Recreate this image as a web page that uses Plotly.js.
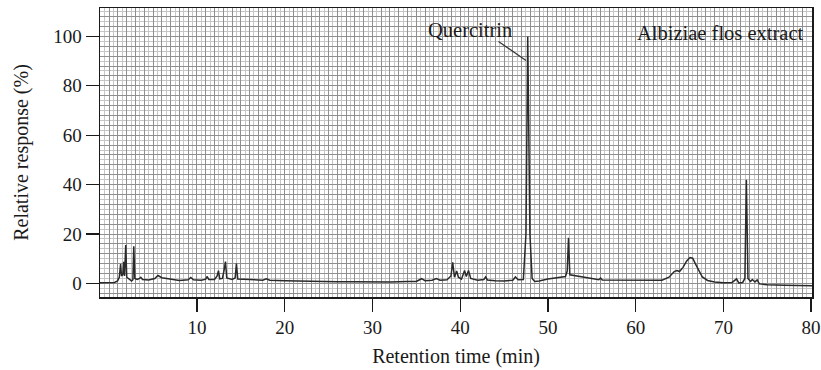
<!DOCTYPE html>
<html>
<head>
<meta charset="utf-8">
<script src="https://cdn.plot.ly/plotly-3.0.1.min.js"></script>
<style>html,body{margin:0;padding:0;background:#fff;}#chart{width:821px;height:370px;}</style>
</head>
<body>
<div id="chart"></div>
<script>
// Retention time (min)
const retentionTime = [-1.05, 0.0, 0.6, 0.95, 1.15, 1.3, 1.4, 1.55, 1.65, 1.75, 1.88, 2.0, 2.3, 2.55, 2.7, 2.8, 2.92, 3.2, 3.45, 3.6, 3.8, 4.5, 5.2, 5.55, 6.0, 7.0, 8.0, 9.0, 9.3, 9.6, 10.5, 11.0, 11.15, 11.35, 12.0, 12.3, 12.45, 12.6, 12.9, 13.1, 13.25, 13.4, 14.0, 14.35, 14.5, 14.65, 15.2, 16.0, 17.5, 17.9, 18.3, 20, 22, 24, 26, 28, 30, 32, 34, 35.0, 35.6, 36.0, 36.8, 37.3, 37.7, 38.5, 38.95, 39.15, 39.35, 39.6, 39.8, 40.15, 40.5, 40.7, 40.95, 41.2, 42.0, 42.7, 42.9, 43.1, 44, 45, 46.0, 46.3, 46.6, 47.2, 47.5, 47.7, 47.95, 48.2, 48.5, 49.0, 50.0, 51.0, 52.0, 52.2, 52.35, 52.5, 53.2, 54.0, 55.0, 55.8, 56.0, 56.2, 58, 60, 62.0, 63.0, 63.8, 64.4, 64.7, 65.0, 65.4, 65.8, 66.2, 66.5, 66.8, 67.2, 67.6, 68.2, 69.0, 70.0, 71.0, 71.5, 71.75, 72.2, 72.45, 72.62, 72.8, 73.1, 73.3, 73.6, 73.85, 74.1, 75.0, 77.0, 80.1];
// Relative response (%)
const relResponse = [0.3, 0.3, 0.4, 1.0, 2.5, 7.8, 3.0, 3.5, 8.8, 3.0, 15.5, 2.5, 1.8, 1.0, 1.5, 15.0, 2.0, 1.6, 2.0, 2.5, 1.6, 1.4, 2.0, 3.2, 2.3, 1.8, 1.2, 1.5, 2.4, 1.5, 1.3, 1.7, 2.8, 1.6, 1.6, 3.0, 5.2, 1.8, 2.0, 5.5, 8.8, 2.2, 1.6, 2.2, 8.0, 1.8, 1.7, 1.4, 1.3, 1.9, 1.3, 1.1, 0.9, 0.8, 0.7, 0.7, 0.6, 0.6, 0.8, 0.8, 1.9, 1.1, 1.3, 2.0, 1.3, 1.5, 3.0, 8.5, 2.5, 5.0, 2.5, 1.7, 5.2, 2.8, 5.2, 2.0, 1.3, 1.6, 2.6, 1.4, 1.1, 1.0, 1.3, 2.6, 1.5, 1.6, 20, 100, 20, 2.0, 0.8, 1.0, 1.8, 2.4, 2.8, 5, 18.5, 3.5, 3.0, 2.6, 2.0, 1.5, 2.2, 1.4, 1.3, 1.2, 1.1, 1.3, 2.5, 4.8, 5.2, 4.8, 6.5, 9.0, 10.5, 10.2, 8.0, 5.0, 2.6, 1.2, 0.6, 0.3, 0.4, 1.8, 0.2, 0.4, 2.0, 42, 2.0, 0.8, 1.6, 0.6, 1.4, -0.2, -0.5, -0.7, -0.9];

const xRange = [-1.05, 80.1];
const yRange = [-5.5, 111.5];
const xTickVals = [10, 20, 30, 40, 50, 60, 70, 80];
const yTickVals = [0, 20, 40, 60, 80, 100];

const peakLabel = "Quercitrin";
const peakLabelPos = [41.15, 102.7];
const peakLeaderFrom = [44.2, 98.4];
const peakLeaderTo = [47.5, 90.2];
const sampleLabel = "Albiziae flos extract";

const serif = "Liberation Serif, Times New Roman, serif";

const traces = [
  {x: retentionTime, y: relResponse, type: 'scatter', mode: 'lines',
   line: {color: '#2a2a2a', width: 1.5}, hoverinfo: 'skip', showlegend: false},
  {x: [], y: [], xaxis: 'x2', yaxis: 'y2', type: 'scatter', mode: 'lines', showlegend: false}
];

const gridDark = '#8f8f8f', gridLight = '#c6c6c6';

const layout = {
  width: 821, height: 370,
  margin: {l: 100, r: 9, t: 8, b: 73, pad: 0},
  paper_bgcolor: '#fff', plot_bgcolor: '#fff',
  font: {family: serif, size: 19, color: '#1a1a1a'},
  showlegend: false,
  xaxis: {range: xRange, tickmode: 'array', tickvals: xTickVals, ticks: 'outside', ticklen: 13, tickwidth: 1.3,
          tickcolor: '#1a1a1a', showgrid: false, zeroline: false, showline: true, mirror: true,
          linecolor: '#1a1a1a', linewidth: 1.5, tickfont: {size: 19},
          title: {text: 'Retention time (min)', font: {size: 20}, standoff: 11}, automargin: false},
  yaxis: {range: yRange, tickmode: 'array', tickvals: yTickVals, ticks: 'outside', ticklen: 13, tickwidth: 1.3,
          tickcolor: '#1a1a1a', showgrid: false, zeroline: false, showline: true, mirror: true,
          linecolor: '#1a1a1a', linewidth: 1.5, tickfont: {size: 19},
          title: {text: 'Relative response (%)', font: {size: 20}, standoff: 19}, automargin: false},
  xaxis2: {range: xRange, overlaying: 'x', anchor: 'y2', showticklabels: false, ticks: '', showline: false, zeroline: false,
           tick0: 0, dtick: 1, showgrid: true, gridcolor: gridDark, gridwidth: 1,
           minor: {dtick: 0.5, tick0: 0, showgrid: true, gridcolor: gridLight, gridwidth: 1, ticks: ''}},
  yaxis2: {range: yRange, overlaying: 'y', anchor: 'x2', showticklabels: false, ticks: '', showline: false, zeroline: false,
           tick0: 0, dtick: 4, showgrid: true, gridcolor: gridDark, gridwidth: 1,
           minor: {dtick: 2, tick0: 0, showgrid: true, gridcolor: gridLight, gridwidth: 1, ticks: ''}},
  annotations: [
    {x: peakLabelPos[0], y: peakLabelPos[1], xref: 'x', yref: 'y', text: peakLabel, showarrow: false,
     font: {size: 20.5, family: serif, color: '#1a1a1a'}, xanchor: 'center', yanchor: 'middle'},
    {x: peakLeaderTo[0], y: peakLeaderTo[1], xref: 'x', yref: 'y', ax: peakLeaderFrom[0], ay: peakLeaderFrom[1],
     axref: 'x', ayref: 'y', text: '', showarrow: true, arrowhead: 0, arrowwidth: 1.2, arrowcolor: '#333'},
    {x: 1, y: 0.915, xref: 'paper', yref: 'paper', text: sampleLabel, showarrow: false, xshift: -6,
     font: {size: 20.5, family: serif, color: '#1a1a1a'}, xanchor: 'right', yanchor: 'middle'}
  ]
};

Plotly.newPlot('chart', traces, layout, {staticPlot: true, displayModeBar: false});
</script>
</body>
</html>
